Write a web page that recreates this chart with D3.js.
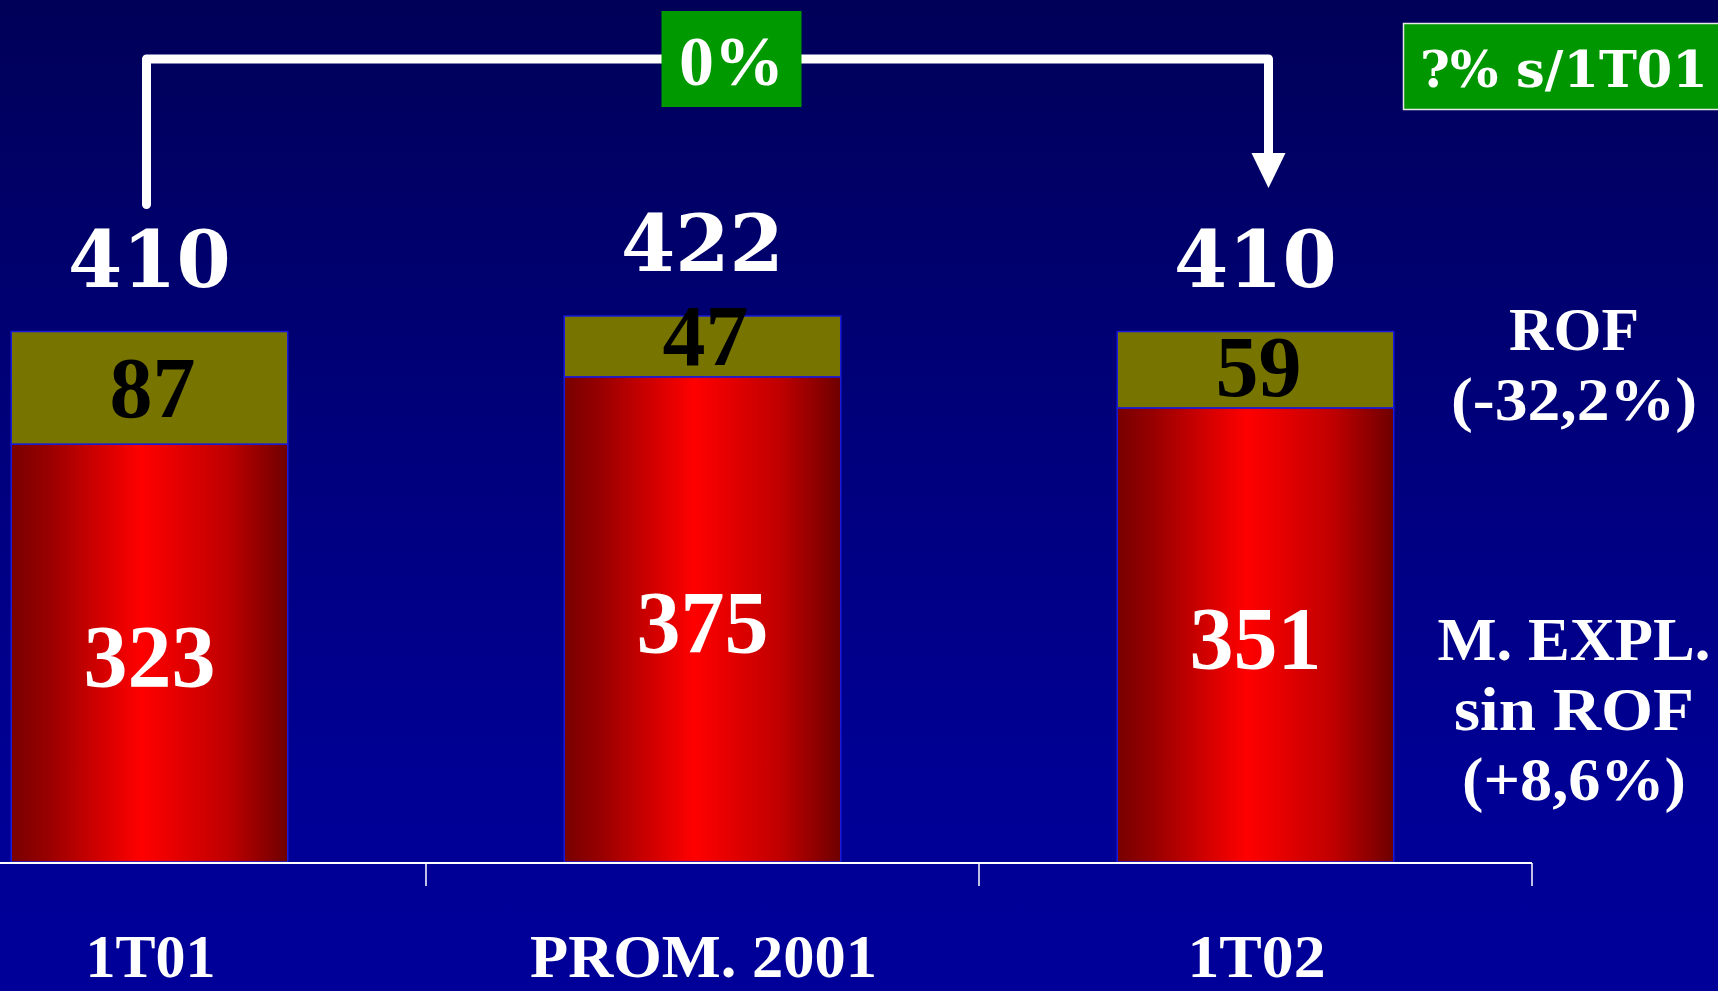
<!DOCTYPE html>
<html>
<head>
<meta charset="utf-8">
<script src="https://cdn.jsdelivr.net/npm/d3@7"></script>
<style>
  html, body { margin: 0; padding: 0; background: #000070; overflow: hidden; }
  svg { display: block; }
</style>
</head>
<body>
<svg id="chart" width="1718" height="991"></svg>
<script>
// ---- data ----
const categories = ["1T01", "PROM. 2001", "1T02"];
const mExplSinRof = [323, 375, 351];
const rof = [87, 47, 59];
const totals = [410, 422, 410];
const changeLabel = "0%";
const vsLabel = "?% s/1T01";
const rofLegend = ["ROF", "(-32,2%)"];
const mExplLegend = ["M. EXPL.", "sin ROF", "(+8,6%)"];

const W = 1718, H = 991;
const svg = d3.select("#chart");
const defs = svg.append("defs");

const bg = defs.append("linearGradient").attr("id", "bg")
  .attr("x1", 0).attr("y1", 0).attr("x2", 0).attr("y2", 1);
[[0, "#000058"], [0.45, "#00007c"], [0.8, "#000095"], [1, "#000099"]].forEach(([o, c]) =>
  bg.append("stop").attr("offset", o).attr("stop-color", c));

const red = defs.append("linearGradient").attr("id", "redbar")
  .attr("x1", 0).attr("y1", 0).attr("x2", 1).attr("y2", 0);
[[0, "#780000"], [0.12, "#950000"], [0.47, "#ff0000"], [0.78, "#c00000"], [1, "#6e0000"]].forEach(([o, c]) =>
  red.append("stop").attr("offset", o).attr("stop-color", c));

svg.append("rect").attr("width", W).attr("height", H).attr("fill", "url(#bg)");

// ---- scales ----
const x = d3.scaleBand().domain(categories).range([-127, 1532])
  .paddingInner(0.5).paddingOuter(0.25);
const y = d3.scaleLinear().domain([0, 422]).range([862, 316]);
const bw = x.bandwidth();
const cx = c => x(c) + bw / 2;

const rows = categories.map((c, i) => ({ c, base: mExplSinRof[i], top: rof[i], total: totals[i] }));

// ---- bars ----
const g = svg.append("g");
g.selectAll("rect.base").data(rows).join("rect").attr("class", "base")
  .attr("x", d => x(d.c)).attr("width", bw)
  .attr("y", d => y(d.base)).attr("height", d => y(0) - y(d.base))
  .attr("fill", "url(#redbar)").attr("stroke", "#1a1ad8").attr("stroke-width", 1.5);

g.selectAll("rect.top").data(rows).join("rect").attr("class", "top")
  .attr("x", d => x(d.c)).attr("width", bw)
  .attr("y", d => y(d.base + d.top)).attr("height", d => y(d.base) - y(d.base + d.top))
  .attr("fill", "#777400").attr("stroke", "#1a1ad8").attr("stroke-width", 1.5);

// ---- value labels ----
const serifT = "'Liberation Serif', 'Times New Roman', serif";
const serifD = "'DejaVu Serif', serif";

g.selectAll("text.base").data(rows).join("text").attr("class", "base")
  .attr("x", d => cx(d.c)).attr("y", d => (y(0) + y(d.base)) / 2 + 33)
  .attr("text-anchor", "middle").attr("fill", "#fff")
  .style("font-family", serifT).style("font-weight", "bold").style("font-size", "88px")
  .text(d => d.base);

g.selectAll("text.top").data(rows).join("text").attr("class", "top")
  .attr("x", d => cx(d.c) + 3)
  .attr("y", d => Math.min((y(d.base) + y(d.base + d.top)) / 2 + 29, y(d.base) - 12))
  .attr("text-anchor", "middle").attr("fill", "#000")
  .style("font-family", serifT).style("font-weight", "bold").style("font-size", "86px")
  .text(d => d.top);

g.selectAll("text.total").data(rows).join("text").attr("class", "total")
  .attr("x", d => cx(d.c)).attr("y", d => y(d.total) - 45)
  .attr("text-anchor", "middle").attr("fill", "#fff")
  .style("font-family", serifD).style("font-weight", "bold").style("font-size", "78px")
  .text(d => d.total);

// ---- axis ----
const step = x.step();
const axisG = svg.append("g");
axisG.append("line").attr("x1", 0).attr("x2", x.range()[1])
  .attr("y1", y(0) + 1).attr("y2", y(0) + 1)
  .attr("stroke", "#fff").attr("stroke-width", 2);
axisG.selectAll("line.tick").data(categories).join("line").attr("class", "tick")
  .attr("x1", c => x(c) + bw + (step - bw) / 2).attr("x2", c => x(c) + bw + (step - bw) / 2)
  .attr("y1", y(0) + 1).attr("y2", y(0) + 24)
  .attr("stroke", "#fff").attr("stroke-width", 1.5);

const catWidths = { "1T01": 130, "PROM. 2001": 347, "1T02": 138 };
axisG.selectAll("text.cat").data(categories).join("text").attr("class", "cat")
  .attr("x", c => cx(c) + 1).attr("y", 977)
  .attr("text-anchor", "middle").attr("fill", "#fff")
  .attr("textLength", c => catWidths[c]).attr("lengthAdjust", "spacingAndGlyphs")
  .style("font-family", serifT).style("font-weight", "bold").style("font-size", "62px")
  .text(c => c);

// ---- bracket annotation ----
const lx = cx(categories[0]) - 3;
const rx = cx(categories[2]) + 13;
const by = 59;
svg.append("path")
  .attr("d", `M${lx},${y(totals[0]) - 127} L${lx},${by} L${rx},${by} L${rx},${158}`)
  .attr("fill", "none").attr("stroke", "#fff").attr("stroke-width", 9)
  .attr("stroke-linecap", "round").attr("stroke-linejoin", "round");
svg.append("path")
  .attr("d", `M${rx - 17},${153} L${rx + 17},${153} L${rx},${188} Z`)
  .attr("fill", "#fff");

const bx = cx(categories[1]) + 29;
svg.append("rect").attr("x", bx - 70).attr("y", 11).attr("width", 140).attr("height", 96)
  .attr("fill", "#009900");
svg.append("text").attr("x", bx).attr("y", 85).attr("text-anchor", "middle")
  .attr("fill", "#fff")
  .style("font-family", serifT).style("font-weight", "bold").style("font-size", "70px")
  .text(changeLabel);

// ---- top-right box ----
svg.append("rect").attr("x", 1403.5).attr("y", 23.5).attr("width", 340).attr("height", 86)
  .attr("fill", "#009600").attr("stroke", "#e8e8e8").attr("stroke-width", 1.5);
svg.append("text").attr("x", 1420).attr("y", 87).attr("fill", "#fff")
  .style("font-family", serifD).style("font-weight", "bold").style("font-size", "51px")
  .text(vsLabel);

// ---- right legend ----
const legX = 1574;
const legWidths = { "ROF": 130, "(-32,2%)": 246, "M. EXPL.": 273, "sin ROF": 240, "(+8,6%)": 224 };
const legStyle = sel => sel
  .attr("x", legX).attr("text-anchor", "middle").attr("fill", "#fff")
  .attr("textLength", d => legWidths[d]).attr("lengthAdjust", "spacingAndGlyphs")
  .style("font-family", serifT).style("font-weight", "bold").style("font-size", "62px")
  .text(d => d);
svg.selectAll("text.rof").data(rofLegend).join("text").attr("class", "rof")
  .attr("y", (d, i) => 350 + i * 70).call(legStyle);
svg.selectAll("text.mexp").data(mExplLegend).join("text").attr("class", "mexp")
  .attr("y", (d, i) => 660 + i * 70).call(legStyle);
</script>
</body>
</html>
